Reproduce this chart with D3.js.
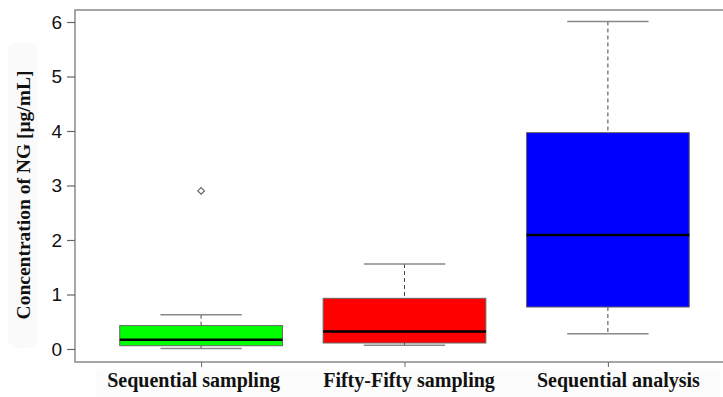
<!DOCTYPE html>
<html>
<head>
<meta charset="utf-8">
<script src="https://cdn.jsdelivr.net/npm/d3@7"></script>
<style>
  body { margin: 0; background: #fff; }
  svg { display: block; }
</style>
</head>
<body>
<svg></svg>
<script>
// box statistics
var groups = ["Sequential sampling", "Fifty-Fifty sampling", "Sequential analysis"];
var lowerWhisker = [0.01, 0.07, 0.28];
var q1 = [0.06, 0.11, 0.77];
var medians = [0.17, 0.32, 2.09];
var q3 = [0.43, 0.93, 3.97];
var upperWhisker = [0.63, 1.56, 6.01];
var outliers = [[2.90], [], []];
var colors = ["#00ff00", "#ff0000", "#0000ff"];
var yTicks = [0, 1, 2, 3, 4, 5, 6];

var svgWidth = 723, svgHeight = 397;
var plotLeft = 75, plotTop = 10, plotBottom = 362, plotRight = 734;

var svg = d3.select("svg")
    .attr("width", svgWidth)
    .attr("height", svgHeight);

// R style: positions 1..3, box width 0.8, x range padded 4%
var x = d3.scaleLinear().domain([0.38, 3.62]).range([plotLeft, plotRight]);
var y = d3.scaleLinear().domain([0, 6]).range([349, 22]);

var data = groups.map(function(g, i) {
    return {name: g, pos: i + 1, lo: lowerWhisker[i], q1: q1[i], med: medians[i],
            q3: q3[i], hi: upperWhisker[i], out: outliers[i], color: colors[i]};
});

// faint background patches behind the titles
svg.append("rect").attr("x", 8).attr("y", 42).attr("width", 30).attr("height", 306)
    .attr("rx", 10).attr("fill", "#fafafa");
svg.append("rect").attr("x", 96).attr("y", 369).attr("width", 624).attr("height", 28)
    .attr("fill", "#fcfcfc");

var boxes = svg.selectAll("g.box")
    .data(data)
    .enter()
    .append("g")
    .attr("class", "box");

// dashed whiskers
boxes.append("line")
    .attr("x1", function(d){ return x(d.pos); })
    .attr("x2", function(d){ return x(d.pos); })
    .attr("y1", function(d){ return y(d.hi); })
    .attr("y2", function(d){ return y(d.q3); })
    .attr("stroke", "#444").attr("stroke-width", 1).attr("stroke-dasharray", "4,3");
boxes.append("line")
    .attr("x1", function(d){ return x(d.pos); })
    .attr("x2", function(d){ return x(d.pos); })
    .attr("y1", function(d){ return y(d.q1); })
    .attr("y2", function(d){ return y(d.lo); })
    .attr("stroke", "#444").attr("stroke-width", 1).attr("stroke-dasharray", "4,3");

// whisker caps
["hi", "lo"].forEach(function(k) {
    boxes.append("line")
        .attr("x1", function(d){ return x(d.pos - 0.2); })
        .attr("x2", function(d){ return x(d.pos + 0.2); })
        .attr("y1", function(d){ return y(d[k]); })
        .attr("y2", function(d){ return y(d[k]); })
        .attr("stroke", "#888").attr("stroke-width", 1.5);
});

boxes.append("rect")
    .attr("x", function(d){ return x(d.pos - 0.4); })
    .attr("width", function(d){ return x(d.pos + 0.4) - x(d.pos - 0.4); })
    .attr("y", function(d){ return y(d.q3); })
    .attr("height", function(d){ return y(d.q1) - y(d.q3); })
    .attr("fill", function(d){ return d.color; })
    .attr("stroke", "#666").attr("stroke-width", 1);

boxes.append("line")
    .attr("x1", function(d){ return x(d.pos - 0.4); })
    .attr("x2", function(d){ return x(d.pos + 0.4); })
    .attr("y1", function(d){ return y(d.med); })
    .attr("y2", function(d){ return y(d.med); })
    .attr("stroke", "#000").attr("stroke-width", 2.5);

// outliers as small diamonds
boxes.selectAll("path.out")
    .data(function(d){ return d.out.map(function(v){ return {pos: d.pos, v: v}; }); })
    .enter()
    .append("path")
    .attr("class", "out")
    .attr("d", d3.symbol().type(d3.symbolDiamond2).size(28))
    .attr("transform", function(d){ return "translate(" + x(d.pos) + "," + y(d.v) + ")"; })
    .attr("fill", "none").attr("stroke", "#666").attr("stroke-width", 1.2);

// frame
svg.append("rect")
    .attr("x", plotLeft).attr("y", plotTop)
    .attr("width", plotRight - plotLeft).attr("height", plotBottom - plotTop)
    .attr("fill", "none").attr("stroke", "#8a8a8a").attr("stroke-width", 1.5);

// y axis
var yAxis = svg.append("g")
    .attr("transform", "translate(" + plotLeft + ",0)")
    .call(d3.axisLeft(y).tickValues(yTicks).tickSize(8).tickPadding(5)
        .tickFormat(d3.format("d")));
yAxis.select(".domain").remove();
yAxis.selectAll(".tick line").attr("stroke", "#666").attr("stroke-width", 1.2);
yAxis.selectAll(".tick text")
    .attr("font-family", "Liberation Sans, Arial, sans-serif")
    .attr("font-size", 19).attr("fill", "#111");

// x axis
var xAxis = svg.append("g")
    .attr("transform", "translate(0," + plotBottom + ")")
    .call(d3.axisBottom(x).tickValues([1, 2, 3]).tickSize(5)
        .tickFormat(function(d){ return groups[d - 1]; }));
xAxis.select(".domain").remove();
xAxis.selectAll(".tick line").attr("stroke", "#666");
var labelShift = [-8, 4, 10];
xAxis.selectAll(".tick text")
    .attr("x", function(d){ return labelShift[d - 1]; })
    .attr("y", 11)
    .attr("font-family", "Liberation Serif, Times New Roman, serif")
    .attr("font-weight", "bold")
    .attr("font-size", 20).attr("fill", "#111");

// y title
svg.append("text")
    .attr("transform", "translate(30,195) rotate(-90)")
    .attr("text-anchor", "middle")
    .attr("font-family", "Liberation Serif, Times New Roman, serif")
    .attr("font-weight", "bold")
    .attr("font-size", 19.5)
    .attr("fill", "#111")
    .text("Concentration of NG [μg/mL]");
</script>
</body>
</html>
